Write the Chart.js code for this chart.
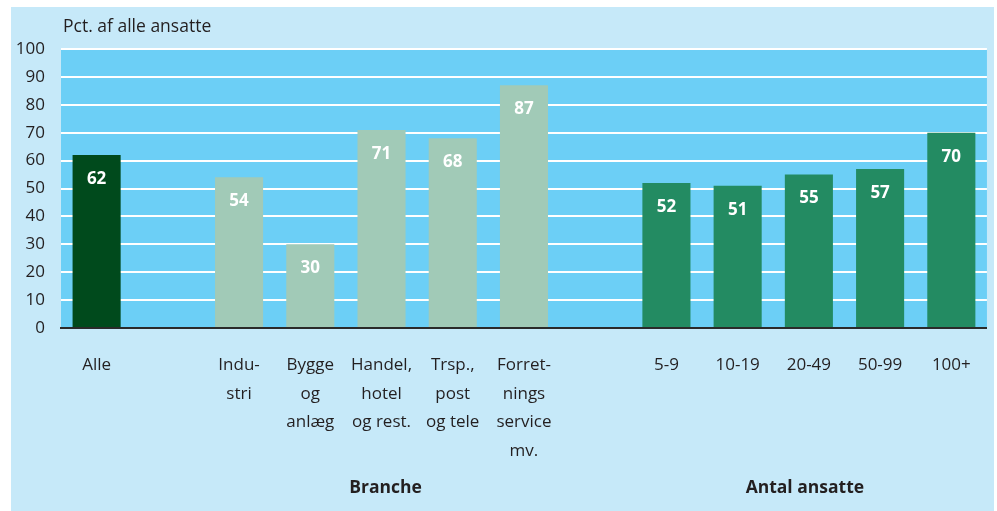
<!DOCTYPE html>
<html>
<head>
<meta charset="utf-8">
<script src="https://cdn.jsdelivr.net/npm/chart.js@4/dist/chart.umd.min.js"></script>
<style>
  html, body { margin: 0; padding: 0; background: #ffffff; }
  #wrap {
    position: absolute;
    left: 11px;
    top: 7px;
    width: 983px;
    height: 504px;
    background: #c6e9f9;
  }
</style>
</head>
<body>
<div id="wrap"><canvas id="chart" width="983" height="504"></canvas></div>
<script>
// ============================================
// DATA
// ============================================

const CATEGORIES = [
  'Alle',
  '',
  ['Indu-', 'stri'],
  ['Bygge', 'og', 'anlæg'],
  ['Handel,', 'hotel', 'og rest.'],
  ['Trsp.,', 'post', 'og tele'],
  ['Forret-', 'nings', 'service', 'mv.'],
  '',
  '5-9',
  '10-19',
  '20-49',
  '50-99',
  '100+',
];

// Pct. af alle ansatte (gaps are null)
const VALUES = [62, null, 54, 30, 71, 68, 87, null, 52, 51, 55, 57, 70];

// which group each category belongs to
const GROUP_OF = ['total', null, 'branche', 'branche', 'branche', 'branche', 'branche', null, 'size', 'size', 'size', 'size', 'size'];

const GROUP_TITLES = [
  { text: 'Branche', first: 2, last: 6 },
  { text: 'Antal ansatte', first: 8, last: 12 },
];

const Y_TICKS = [0, 10, 20, 30, 40, 50, 60, 70, 80, 90, 100];
const Y_TITLE = 'Pct. af alle ansatte';

const GROUP_COLORS = {
  total: '#004a1c',
  branche: '#a1cab7',
  size: '#238b62',
};

const FONT = "'Open Sans', 'Noto Sans', sans-serif";
const TEXT_COLOR = '#231f20';

// ============================================
// PLUGINS
// ============================================

// light-blue plot area behind the grid
const plotBackground = {
  id: 'plotBackground',
  beforeDraw(chart) {
    const { ctx, chartArea } = chart;
    ctx.save();
    ctx.fillStyle = '#6ccff6';
    ctx.fillRect(chartArea.left, chartArea.top, chartArea.right - chartArea.left, chartArea.bottom - chartArea.top);
    ctx.restore();
  },
};

// value labels inside the bars, axis title and group titles
const extraText = {
  id: 'extraText',
  afterDatasetsDraw(chart) {
    const { ctx, chartArea } = chart;
    const meta = chart.getDatasetMeta(0);
    const xScale = chart.scales.x;

    ctx.save();
    ctx.textAlign = 'center';
    ctx.textBaseline = 'middle';
    ctx.fillStyle = '#ffffff';
    ctx.font = 'bold 17px ' + FONT;
    meta.data.forEach((bar, i) => {
      if (VALUES[i] === null) return;
      ctx.fillText(String(VALUES[i]), bar.x, bar.y + 24);
    });

    // y axis title
    ctx.fillStyle = TEXT_COLOR;
    ctx.textAlign = 'left';
    ctx.font = '17.5px ' + FONT;
    ctx.fillText(Y_TITLE, chartArea.left + 2, 20);

    // group titles
    ctx.textAlign = 'center';
    ctx.font = 'bold 17.5px ' + FONT;
    GROUP_TITLES.forEach((g, k) => {
      const x = (xScale.getPixelForValue(g.first) + xScale.getPixelForValue(g.last)) / 2;
      ctx.fillText(g.text, x + (k === 0 ? 4 : -4), 481);
    });
    ctx.restore();
  },
};

// ============================================
// CHART
// ============================================

const ctx = document.getElementById('chart').getContext('2d');

new Chart(ctx, {
  type: 'bar',
  data: {
    labels: CATEGORIES,
    datasets: [
      {
        data: VALUES,
        backgroundColor: GROUP_OF.map((g) => (g ? GROUP_COLORS[g] : 'transparent')),
        borderWidth: 0,
        barPercentage: 0.675,
        categoryPercentage: 1,
      },
    ],
  },
  options: {
    responsive: false,
    animation: false,
    layout: {
      padding: { top: 42, right: 6, bottom: 0, left: 0 },
    },
    plugins: {
      legend: { display: false },
      tooltip: { enabled: false },
      title: { display: false },
    },
    scales: {
      x: {
        grid: { display: false, drawTicks: false },
        border: { display: true, color: '#2a2a2a', width: 2 },
        ticks: {
          color: TEXT_COLOR,
          font: { family: FONT, size: 17, lineHeight: 1.68 },
          padding: 23,
          maxRotation: 0,
          autoSkip: false,
        },
        afterFit(scale) {
          scale.height = 183;
        },
      },
      y: {
        min: 0,
        max: 100,
        afterBuildTicks(scale) {
          scale.ticks = Y_TICKS.map((v) => ({ value: v }));
        },
        grid: { color: '#ffffff', lineWidth: 2, drawTicks: false },
        border: { display: false },
        ticks: {
          color: TEXT_COLOR,
          font: { family: FONT, size: 17 },
          padding: 16,
        },
        afterFit(scale) {
          scale.width = 50;
        },
      },
    },
  },
  plugins: [plotBackground, extraText],
});
</script>
</body>
</html>
